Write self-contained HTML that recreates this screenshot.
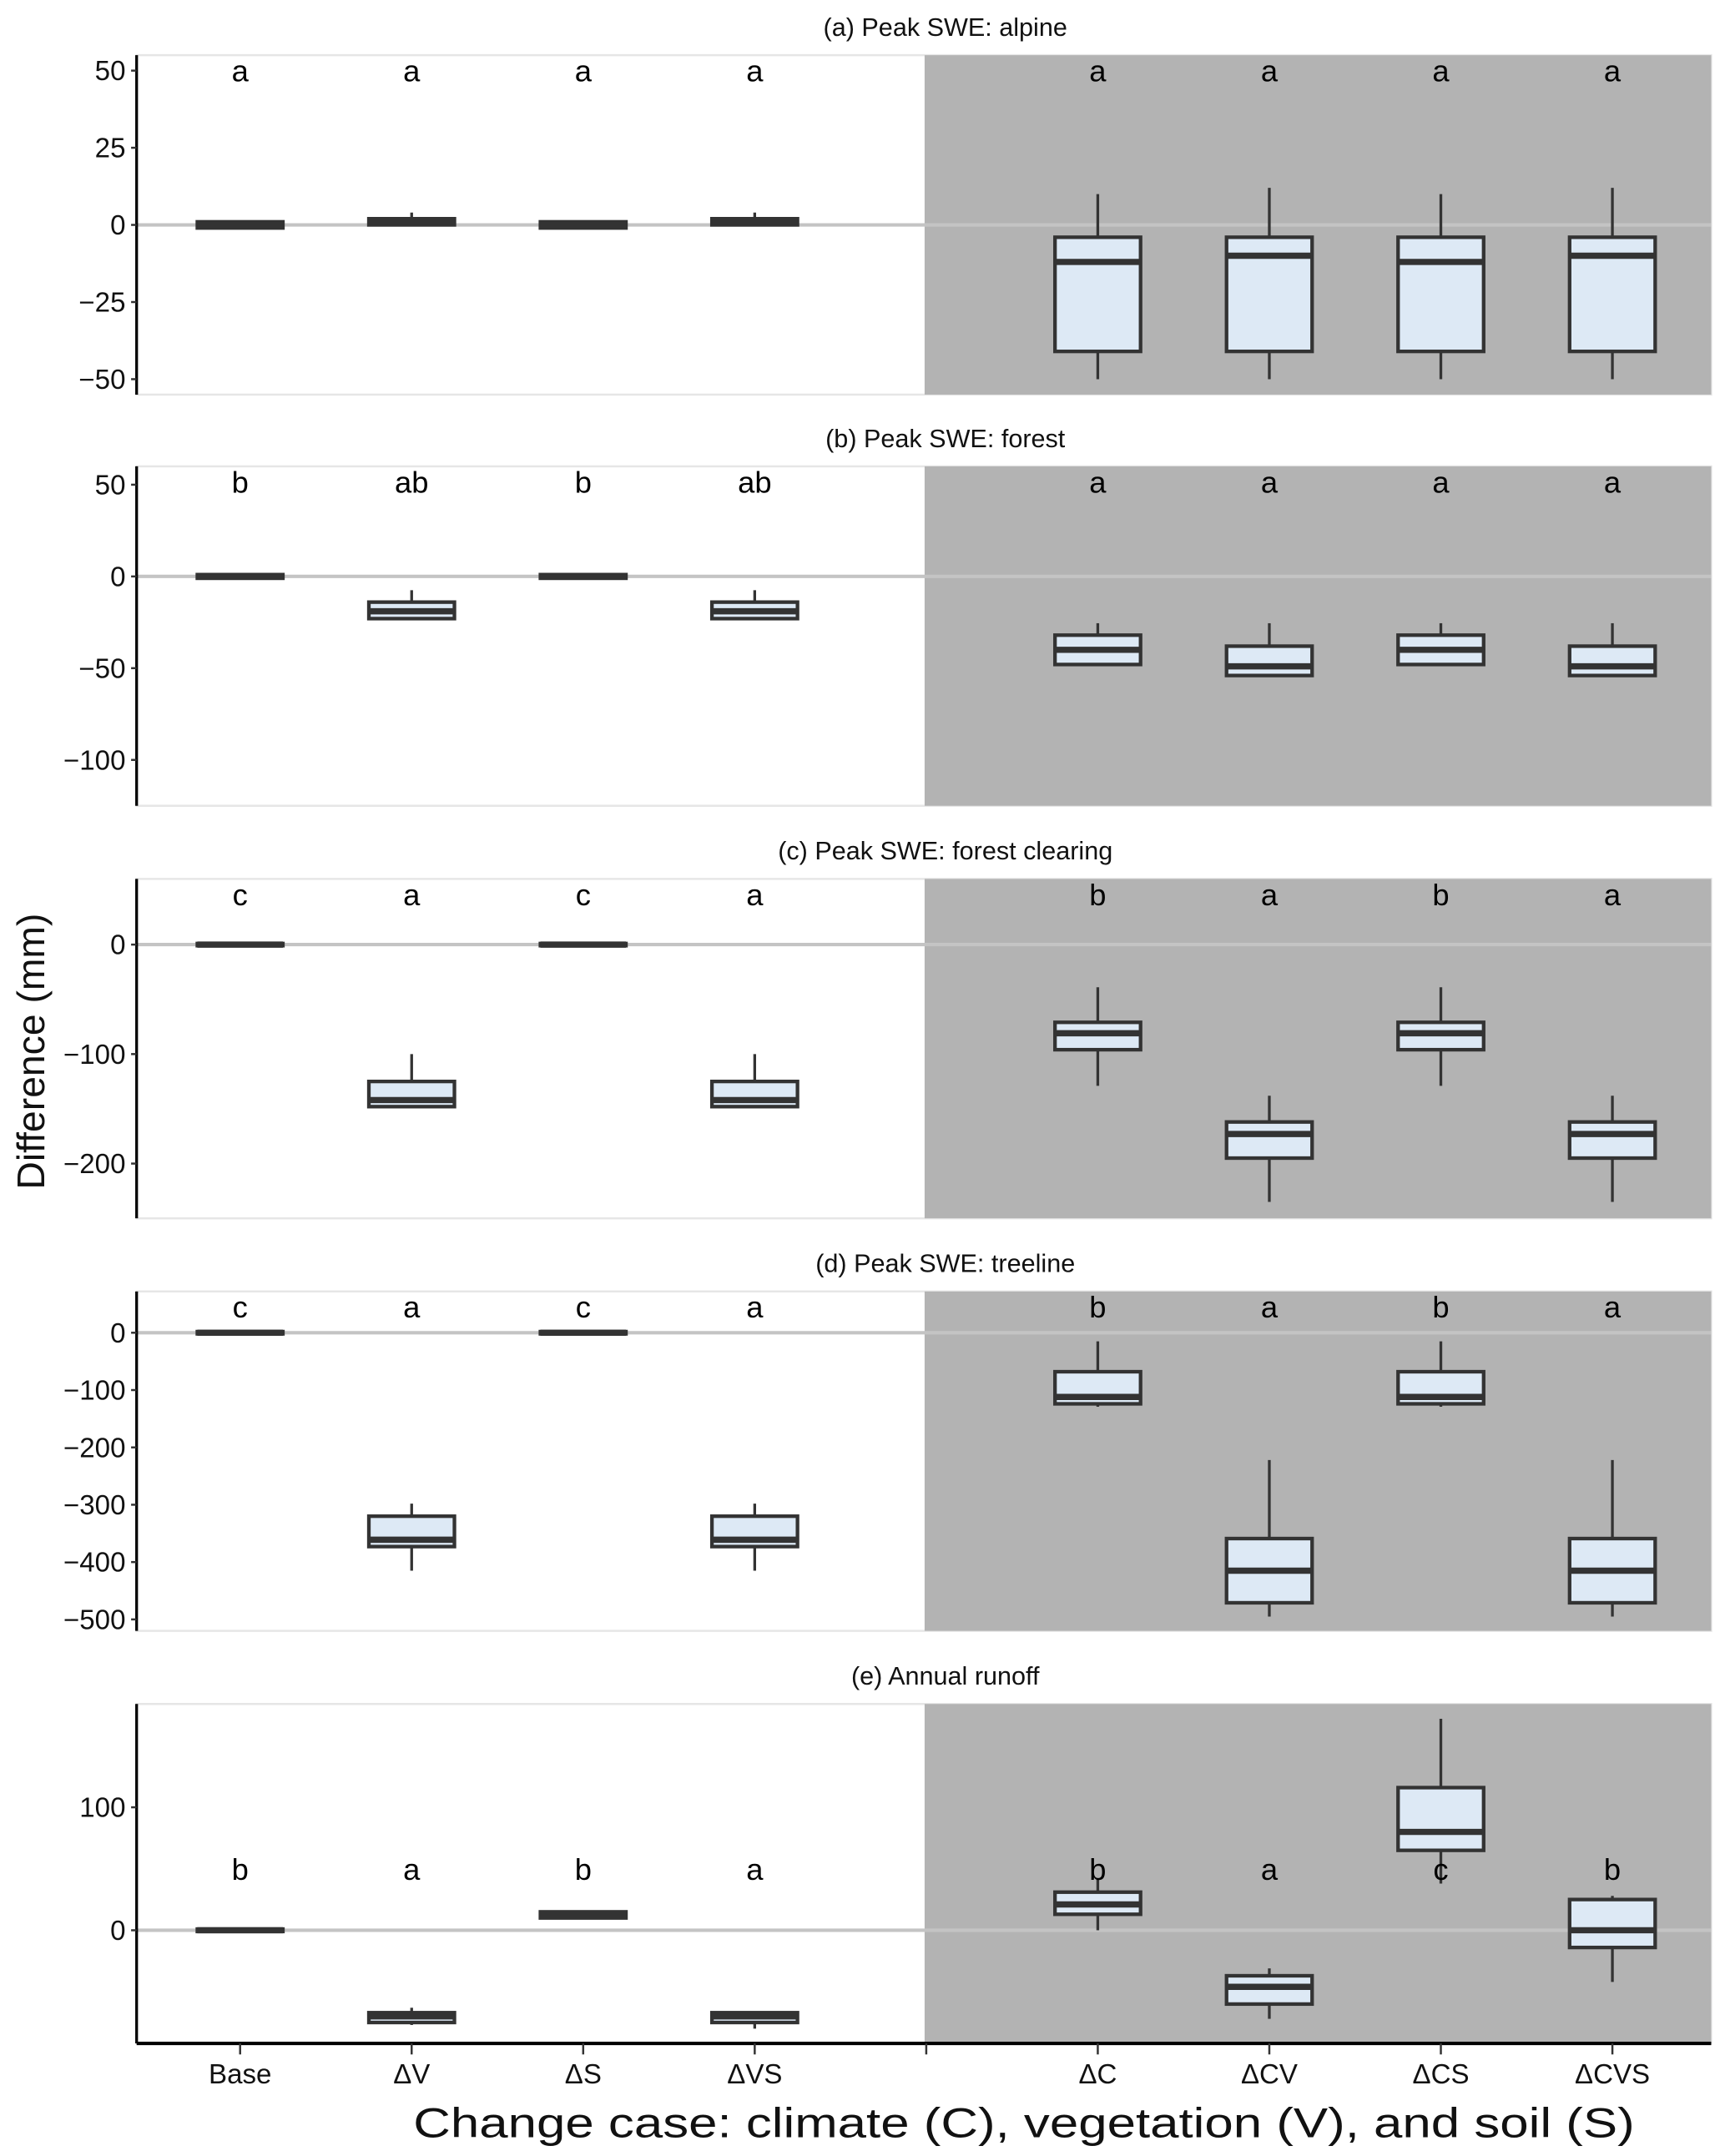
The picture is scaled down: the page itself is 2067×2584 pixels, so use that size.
<!DOCTYPE html>
<html><head><meta charset="utf-8"><style>
html,body{margin:0;padding:0;background:#fff;}
svg{display:block;font-family:"Liberation Sans",sans-serif;}
</style></head><body>
<svg id="chart" width="2067" height="2584" viewBox="0 0 1250 1562.6" preserveAspectRatio="none" xmlns="http://www.w3.org/2000/svg"></svg>
<script>
const categories = ["Base","ΔV","ΔS","ΔVS","","ΔC","ΔCV","ΔCS","ΔCVS"];
const panelTitles = ["(a) Peak SWE: alpine","(b) Peak SWE:  forest","(c) Peak SWE:  forest clearing","(d) Peak SWE:  treeline","(e) Annual runoff"];
const yTicks = [[50,25,0,-25,-50],[50,0,-50,-100],[0,-100,-200],[0,-100,-200,-300,-400,-500],[100,0]];
const yDomains = [[-55,55],[-125,60],[-250,60],[-520,72],[-92,184]];
// [lowWhisker, q1, median, q3, highWhisker] per category (skip empty slot)
const statsA = [[-1,-1,0,1,1],[0,0,1,2,4],[-1,-1,0,1,1],[0,0,1,2,4],null,[-50,-41,-12,-4,10],[-50,-41,-10,-4,12],[-50,-41,-12,-4,10],[-50,-41,-10,-4,12]];
const statsB = [[-1,-1,0,1,1],[-23,-23,-19,-14,-7.5],[-1,-1,0,1,1],[-23,-23,-19,-14,-7.5],null,[-48,-48,-40,-32,-25.5],[-54,-54,-49,-38,-25.5],[-48,-48,-40,-32,-25.5],[-54,-54,-49,-38,-25.5]];
const statsC = [[-1,-1,0,1,1],[-148,-148,-142,-125,-100],[-1,-1,0,1,1],[-148,-148,-142,-125,-100],null,[-129,-96,-81,-71,-39],[-235,-195,-173,-162,-138],[-129,-96,-81,-71,-39],[-235,-195,-173,-162,-138]];
const statsD = [[-2,-2,0,2,2],[-415,-373,-361,-320,-298],[-2,-2,0,2,2],[-415,-373,-361,-320,-298],null,[-129,-124,-112,-68,-15],[-495,-471,-415,-359,-222],[-129,-124,-112,-68,-15],[-495,-471,-415,-359,-222]];
const statsE = [[-1,-1,0,1,1],[-77,-75,-70,-67,-63],[10,10,12,15,16],[-80,-75,-70,-67,-67],null,[0,13,21,31,42],[-72,-60,-46,-37,-31],[38,65,80,116,172],[-42,-14,0,25,28]];
const letters = [["a","a","a","a","","a","a","a","a"],["b","ab","b","ab","","a","a","a","a"],["c","a","c","a","","b","a","b","a"],["c","a","c","a","","b","a","b","a"],["b","a","b","a","","b","a","c","b"]];
const letterValues = [null,null,null,null,50];
const allStats = [statsA,statsB,statsC,statsD,statsE];

const svg = document.getElementById('chart');
const NS = "http://www.w3.org/2000/svg";
function mk(tag, attrs, parent){const e=document.createElementNS(NS,tag);for(const k in attrs)e.setAttribute(k,attrs[k]);(parent||svg).appendChild(e);return e;}
const X0=99, X1=1240, GRAYX=670;
function xPos(i){return 174+124.3*i;}
const panelTops=[40,338,637,936,1235], PH=246;

for(let p=0;p<5;p++){
  const top=panelTops[p], bot=top+PH;
  const [dmin,dmax]=yDomains[p];
  const y=v=>bot-(v-dmin)/(dmax-dmin)*PH;
  const g=mk('g',{});
  
  
  const t=mk('text',{x:685,y:top-14,'text-anchor':'middle','font-size':18.5,fill:'#111'},g);
  t.textContent=panelTitles[p];
  
  
  mk('rect',{x:X0,y:top,width:X1-X0,height:PH,fill:'#fff',stroke:'#e6e6e6','stroke-width':1.5},g);
  const gr=mk('rect',{x:GRAYX,y:top,width:X1-GRAYX,height:PH,fill:'#b3b3b3'},g);
  
  
  mk('line',{x1:X0,x2:X1,y1:y(0),y2:y(0),stroke:'#c4c4c4','stroke-width':2.5},g);
  mk('line',{x1:X0,x2:X0,y1:top,y2:bot,stroke:'#000','stroke-width':2},g);
  yTicks[p].forEach(v=>{
    mk('line',{x1:X0-4,x2:X0,y1:y(v),y2:y(v),stroke:'#333','stroke-width':1.5},g);
    const tl=mk('text',{x:X0-8,y:y(v)+7,'text-anchor':'end','font-size':20,fill:'#111'},g);
    tl.textContent=(v<0?'\u2212'+(-v):String(v));
    
    
  });
  allStats[p].forEach((s,i)=>{
    if(!s)return;
    const cx=xPos(i), hw=31;
    const bg=mk('g',{},g);
    
    
    mk('line',{x1:cx,x2:cx,y1:y(s[0]),y2:y(s[4]),stroke:'#333','stroke-width':2},bg);
    mk('rect',{x:cx-hw,y:y(s[3]),width:2*hw,height:Math.max(0.5,y(s[1])-y(s[3])),fill:'#dde9f5',stroke:'#333','stroke-width':2.6},bg);
    mk('line',{x1:cx-hw,x2:cx+hw,y1:y(s[2]),y2:y(s[2]),stroke:'#333','stroke-width':4.5},bg);
  });
  letters[p].forEach((l,i)=>{
    if(!l)return;
    const ly = letterValues[p]===null ? top+19 : y(letterValues[p])+8;
    const lt=mk('text',{x:xPos(i),y:ly,'text-anchor':'middle','font-size':22,fill:'#000'},g);
    lt.textContent=l;
    
    
  });
}
const ax=mk('line',{x1:X0,x2:X1,y1:1481,y2:1481,stroke:'#000','stroke-width':2.5});


categories.forEach((c,i)=>{
  mk('line',{x1:xPos(i),x2:xPos(i),y1:1481,y2:1489,stroke:'#333','stroke-width':1.5});
  if(c){const tl=mk('text',{x:xPos(i),y:1510,'text-anchor':'middle','font-size':20,fill:'#111'});
  tl.textContent=c;
  
  }
});
const xt=mk('text',{x:742,y:1549,'text-anchor':'middle','font-size':30,fill:'#111',textLength:885,lengthAdjust:'spacingAndGlyphs'});
xt.textContent='Change case: climate (C), vegetation (V), and  soil (S)';


const yt=mk('text',{x:0,y:0,'text-anchor':'middle','font-size':28,fill:'#111',transform:'translate(32,762) rotate(-90)'});
yt.textContent='Difference (mm)';


</script>
</body></html>
